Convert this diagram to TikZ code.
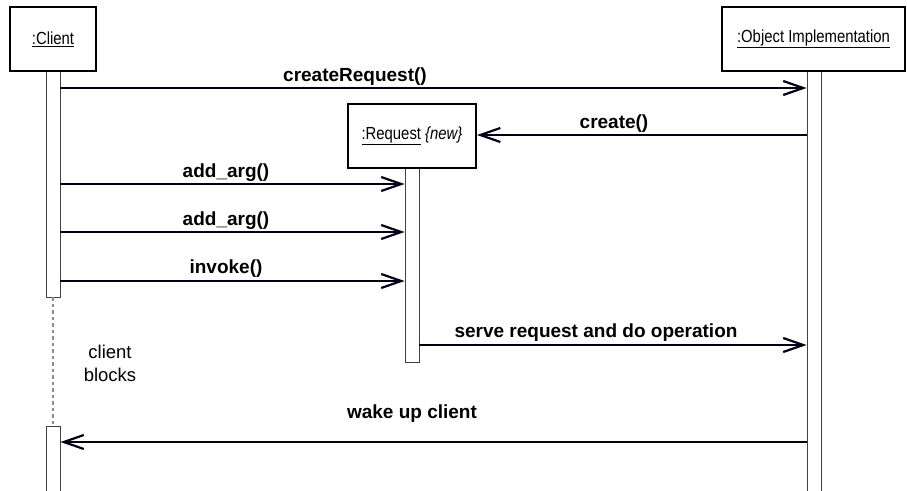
\documentclass[tikz,border=0pt]{standalone}
\usepackage{fontspec}
\setmainfont{Liberation Sans}
\usetikzlibrary{arrows.meta}
\newcommand{\objlbl}[1]{\scalebox{0.85}[1]{\fontsize{17.5}{21}\selectfont #1}}
\begin{document}
\begin{tikzpicture}[x=1pt,y=-1pt,
  objbox/.style={draw=black,line width=2pt,fill=white,inner sep=0pt,minimum height=64pt},
  actbar/.style={draw=black!75,line width=0.9pt,fill=white,inner sep=0pt,minimum width=14pt},
  msg/.style={draw=black!90!blue,line width=2.2pt,-{Straight Barb[length=20pt,width=14pt]}},
  lbl/.style={anchor=base,font=\fontsize{19}{22}\selectfont\bfseries,inner sep=0pt},
  note/.style={anchor=base,font=\fontsize{18.5}{22}\selectfont,inner sep=0pt},
  lifeline/.style={draw=black!45,line width=1.2pt,dash pattern=on 3.5pt off 3pt}]
\clip (0,0) rectangle (907,490);
% activation bars
\node[actbar,minimum height=226pt] (cbar) at (53,184) {};
\node[actbar,minimum height=74pt] (cbar2) at (53,463) {};
\node[actbar,minimum height=430pt] (obar) at (814,286) {};
\node[actbar,minimum height=194pt] (rbar) at (412,265) {};
\draw[lifeline] (cbar.south) -- (cbar2.north);
% object boxes
\node[objbox,minimum width=86pt] (client) at (53,39) {\objlbl{\underline{:Client}}};
\node[objbox,minimum width=183pt] (objimpl) at (813.5,39) {\objlbl{\underline{:Object Implementation}}};
\node[objbox,minimum width=128pt] (request) at (412,136) {\objlbl{\underline{:Request} \textit{\{new\}}}};
% message levels
\coordinate (y1) at (0,88);
\coordinate (y2) at (0,135);
\coordinate (y3) at (0,184);
\coordinate (y4) at (0,232);
\coordinate (y5) at (0,281);
\coordinate (y6) at (0,345);
\coordinate (y7) at (0,442);
% messages
\draw[msg] (cbar.east |- y1) -- (obar.west |- y1);
\draw[msg] (obar.west |- y2) -- (request.east |- y2);
\draw[msg] (cbar.east |- y3) -- (rbar.west |- y3);
\draw[msg] (cbar.east |- y4) -- (rbar.west |- y4);
\draw[msg] (cbar.east |- y5) -- (rbar.west |- y5);
\draw[msg] (rbar.east |- y6) -- (obar.west |- y6);
\draw[msg] (obar.west |- y7) -- (cbar2.east |- y7);
% labels
\node[lbl] (l1) at (355,81) {createRequest()};
\node[lbl] (l2) at (614,128) {create()};
\node[lbl] (l3) at (226,177) {add\_arg()};
\node[lbl] (l4) at (226,225) {add\_arg()};
\node[lbl] (l5) at (226,273) {invoke()};
\node[lbl] (l6) at (596,337) {serve request and do operation};
\node[lbl] (l7) at (412,418) {wake up client};
\node[note] (n1) at (110,358) {client};
\node[note] (n2) at (110,381) {blocks};
\end{tikzpicture}
\end{document}
